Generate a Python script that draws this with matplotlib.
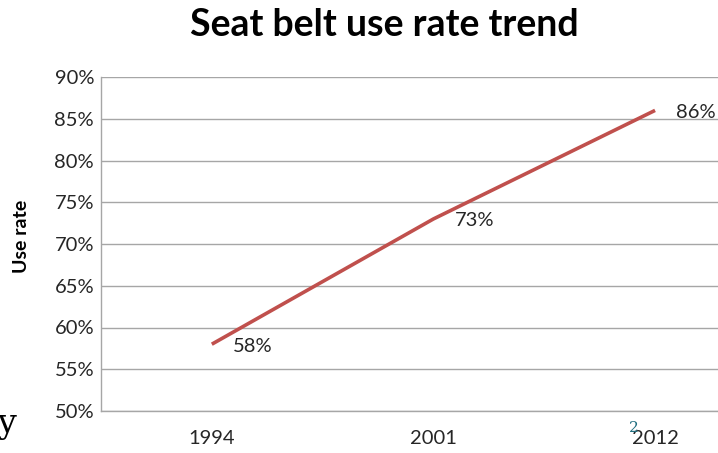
import matplotlib
matplotlib.use("Agg")
import matplotlib.pyplot as plt

years = ["1994", "2001", "2012"]
use_rate = [58, 73, 86]
yticks = [50, 55, 60, 65, 70, 75, 80, 85, 90]

plt.rcParams['font.family'] = ['Lato', 'DejaVu Sans']
red = '#C0504D'
grid = '#A6A6A6'

fig = plt.figure(figsize=(7.18, 4.53), dpi=100)
ax = fig.add_axes([101/718, 1 - 411/453, 1 - 101/718, (411 - 77)/453])

x = list(range(len(years)))
ax.plot(x, use_rate, color=red, lw=2.6, solid_capstyle='butt')
for xi, v in zip(x, use_rate):
    ax.annotate(f"{v}%", (xi, v), xytext=(21, -2), textcoords='offset pixels',
                ha='left', va='center', fontsize=14.5, color='#262626')

ax.set_xlim(-0.5, 2.284)
ax.set_ylim(50, 90)
ax.set_yticks(yticks)
ax.set_yticklabels([f"{t}%" for t in yticks])
ax.set_xticks(x)
ax.set_xticklabels(years)
ax.tick_params(length=0, labelsize=14.5, labelcolor='#262626')
ax.tick_params(axis='y', pad=5)
ax.tick_params(axis='x', pad=14)
ax.grid(axis='y', color=grid, lw=1)
ax.set_axisbelow(True)
for s in ['top', 'right']:
    ax.spines[s].set_visible(False)
for s in ['left', 'bottom']:
    ax.spines[s].set_color(grid)
    ax.spines[s].set_linewidth(1)

ax.set_ylabel("Use rate", fontsize=14, fontweight='bold', va='center')
ax.yaxis.set_label_coords(-80/617, (411 - 236.5)/334)
fig.text(384/718, 1 - 25/453, "Seat belt use rate trend", ha='center', va='center',
         fontsize=27, fontweight='bold')

# stray slide text
fig.text(-3/718, 1 - 424/453, "y", fontsize=24, family='DejaVu Serif', va='center', ha='left')
fig.text(634/718, 1 - 428/453, "2", fontsize=11, family='DejaVu Serif', color='#1F6E80',
         va='center', ha='center')

fig.savefig("out.png", dpi=100)
